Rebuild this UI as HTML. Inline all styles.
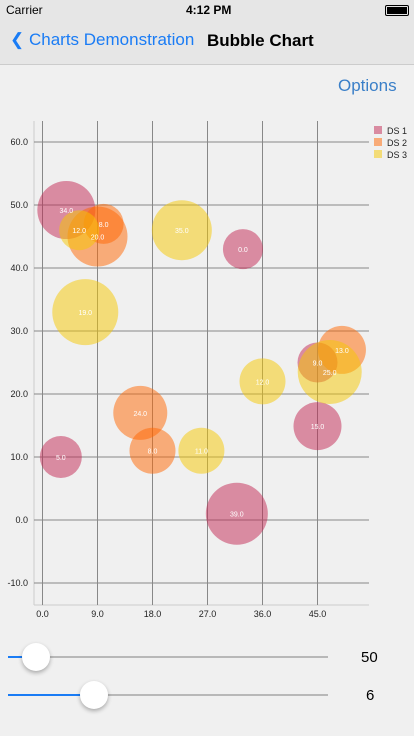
<!DOCTYPE html>
<html><head><meta charset="utf-8">
<style>
body{margin:0;width:414px;height:736px;background:#f0f0f0;font-family:"Liberation Sans",sans-serif;position:relative;overflow:hidden}
.abs{position:absolute}
</style></head><body>
<div class="abs" style="left:0;top:0;width:414px;height:20px;background:#e6e6e6;font-size:12px">
<span class="abs" style="left:6px;top:3px">Carrier ︎</span>
<span class="abs" style="left:186px;top:3px;font-weight:bold">4:12 PM</span>
<span class="abs" style="left:385px;top:5px;width:22px;height:9px;border:1px solid #000;border-radius:2px"><span class="abs" style="left:1px;top:1px;width:20px;height:7px;background:#000"></span></span>
</div>
<div class="abs" style="left:0;top:20px;width:414px;height:44px;background:#e6e6e6;border-bottom:1px solid #ccc">
<span class="abs" style="left:10px;top:10px;color:#1a7cf5;font-size:17px">&#10094; Charts Demonstration</span>
<span class="abs" style="left:207px;top:11px;font-weight:bold;font-size:17px">Bubble Chart</span>
</div>
<span class="abs" style="left:338px;top:76px;color:#3a7fc8;font-size:17px">Options</span>
<svg class="abs" style="left:0;top:0" width="414" height="736" id="chart"></svg>
<div>
<div class="abs" style="left:8px;top:656px;width:320px;height:2px;background:#b8b8b8"></div>
<div class="abs" style="left:8px;top:656px;width:28px;height:2px;background:#1a7cf5"></div>
<div class="abs" style="left:22px;top:643px;width:28px;height:28px;border-radius:50%;background:#fff;box-shadow:0 2px 4px rgba(0,0,0,.3)"></div>
</div>
<span class="abs" style="left:361px;top:649px;font-size:15px">50</span>
<div>
<div class="abs" style="left:8px;top:694px;width:320px;height:2px;background:#b8b8b8"></div>
<div class="abs" style="left:8px;top:694px;width:86px;height:2px;background:#1a7cf5"></div>
<div class="abs" style="left:80px;top:681px;width:28px;height:28px;border-radius:50%;background:#fff;box-shadow:0 2px 4px rgba(0,0,0,.3)"></div>
</div>
<span class="abs" style="left:366px;top:687px;font-size:15px">6</span>
<script>
const xTicks=[0,9,18,27,36,45];
const yTicks=[60,50,40,30,20,10,0,-10];
const ds1X=[3.9,32.8,45,31.8,3,45];
const ds1Y=[49.2,43,14.9,1,10,25];
const ds1Size=[29,20,24,31,21,20];
const ds1Labels=["34.0","0.0","15.0","39.0","5.0","9.0"];
const ds2X=[10,9,16,18,49];
const ds2Y=[47,45,17,11,27];
const ds2Size=[20,30,27,23,24];
const ds2Labels=["8.0","20.0","24.0","8.0","13.0"];
const ds3X=[6,22.8,7,26,36,47];
const ds3Y=[46,46,33,11,22,23.5];
const ds3Size=[20,30,33,23,23,32];
const ds3Labels=["12.0","35.0","19.0","11.0","12.0","25.0"];
const sx=v=>42.5+v*55/9, sy=v=>520-v*6.3;
const svg=document.getElementById('chart'),NS="http://www.w3.org/2000/svg";
function mk(t,a){const e=document.createElementNS(NS,t);for(const k in a)e.setAttribute(k,a[k]);svg.appendChild(e);return e;}
let l=mk('line',{x1:34,y1:121,x2:34,y2:605,stroke:'#ccc'});


l=mk('line',{x1:34,y1:605,x2:369,y2:605,stroke:'#ccc'});


xTicks.forEach(v=>{
 const g=mk('line',{x1:sx(v),y1:121,x2:sx(v),y2:605,stroke:'#888','stroke-width':1});
 
 
 const t=mk('text',{x:sx(v),y:617,'font-size':9,'text-anchor':'middle',fill:'#222'});t.textContent=v.toFixed(1);
 
 
});
yTicks.forEach(v=>{
 const g=mk('line',{x1:34,y1:sy(v),x2:369,y2:sy(v),stroke:'#888','stroke-width':1});
 
 
 const t=mk('text',{x:28,y:sy(v)+3,'font-size':9,'text-anchor':'end',fill:'#222'});t.textContent=v.toFixed(1);
 
 
});
const sets=[[ds1X,ds1Y,ds1Size,ds1Labels,'rgba(193,37,82,0.5)','DS 1'],[ds2X,ds2Y,ds2Size,ds2Labels,'rgba(255,102,0,0.5)','DS 2'],[ds3X,ds3Y,ds3Size,ds3Labels,'rgba(245,199,0,0.5)','DS 3']];
sets.forEach((s,si)=>{
 s[0].forEach((x,i)=>{
  const c=mk('circle',{cx:sx(x),cy:sy(s[1][i]),r:s[2][i],fill:s[4]});
  
  
 });
});
sets.forEach((s,si)=>{
 s[0].forEach((x,i)=>{
  const t=mk('text',{x:sx(x),y:sy(s[1][i])+3,'font-size':7,'text-anchor':'middle',fill:'#fff'});t.textContent=s[3][i];
  
  
 });
 const r=mk('rect',{x:374,y:126+si*12,width:8,height:8,fill:s[4]});
 
 
 const t=mk('text',{x:387,y:134+si*12,'font-size':9,fill:'#222'});t.textContent=s[5];
 
 
});
</script>
</body></html>
